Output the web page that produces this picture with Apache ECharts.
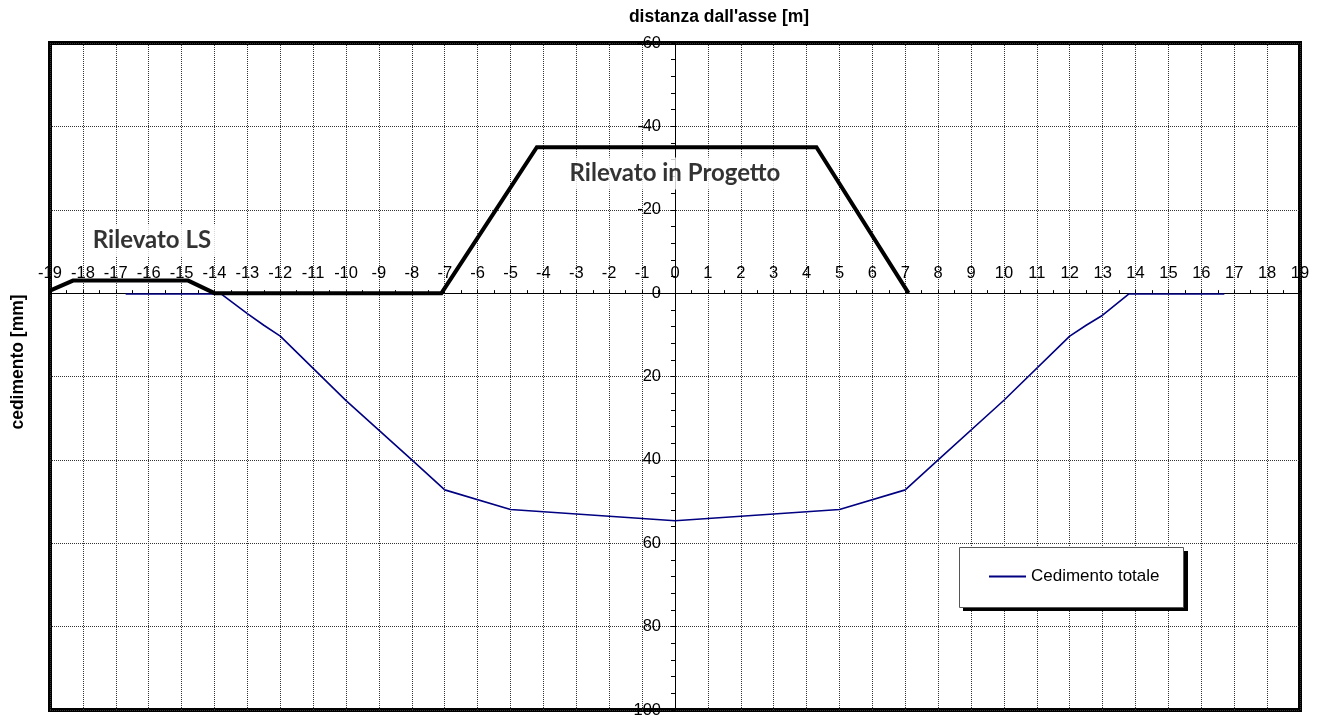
<!DOCTYPE html>
<html>
<head>
<meta charset="utf-8">
<script src="https://cdn.jsdelivr.net/npm/echarts@6/dist/echarts.min.js"></script>
<style>
html,body{margin:0;padding:0;background:#fff;}
#chart{width:1320px;height:720px;}
</style>
</head>
<body>
<div id="chart"></div>
<script>
// Settlement curve (distance from axis [m], settlement [mm])
const settleX = [-16.7, -13.8, -13, -12.5, -12, -10, -8, -7, -5, 0, 5, 7, 8, 10, 12, 12.5, 13, 13.8, 16.7];
const settleY = [0.2, 0.2, 4.9, 7.7, 10.3, 25.8, 40, 47.2, 51.9, 54.6, 51.9, 47.2, 40, 25.7, 10.3, 7.7, 5.3, 0.2, 0.2];

// Embankment profile (existing LS + project embankment)
const profX = [-19, -18.3, -14.8, -14, -7.1, -4.2, 4.3, 7.1];
const profY = [-0.6, -3, -3, 0, 0, -35, -35, 0];

// Annotation labels
const noteX = [-15.9, 0];
const noteY = [-12.7, -28.7];
const noteText = ['Rilevato LS', 'Rilevato in Progetto'];

const seriesName = 'Cedimento totale';
const xTitle = "distanza dall'asse [m]";
const yTitle = 'cedimento [mm]';

const FONT = '"Liberation Sans", Arial, sans-serif';

const chart = echarts.init(document.getElementById('chart'), null, {renderer: 'canvas'});
const option = {
  animation: false,
  backgroundColor: '#fff',
  title: {
    text: xTitle,
    left: 714,
    top: 3,
    textAlign: 'center',
    textStyle: {fontFamily: FONT, fontSize: 17.5, fontWeight: 'bold', color: '#000'}
  },
  graphic: [
    {
      type: 'text',
      x: 18,
      y: 362,
      rotation: Math.PI / 2,
      style: {
        text: yTitle,
        font: 'bold 17.5px ' + FONT,
        fill: '#000',
        textAlign: 'center',
        textVerticalAlign: 'middle'
      }
    },
    // legend frame: drop shadow + white box
    {
      type: 'rect',
      z: 20,
      shape: {x: 963, y: 551, width: 225, height: 60},
      style: {fill: '#000'}
    },
    {
      type: 'rect',
      z: 21,
      shape: {x: 959.5, y: 547.5, width: 224, height: 60},
      style: {fill: '#fff', stroke: '#555', lineWidth: 1}
    }
  ],
  legend: {
    z: 30,
    data: [{name: seriesName, icon: 'rect'}],
    left: 959,
    top: 547,
    orient: 'horizontal',
    padding: [21, 24, 21, 30],
    itemWidth: 37,
    itemHeight: 2,
    itemGap: 4,
    backgroundColor: 'transparent',
    borderWidth: 0,
    textStyle: {fontFamily: FONT, fontSize: 17, color: '#000', padding: [0, 0, 0, 0]}
  },
  grid: {
    left: 50, right: 20, top: 43, bottom: 10,
    show: true,
    borderColor: '#000',
    borderWidth: 4,
    backgroundColor: 'transparent',
    containLabel: false,
    outerBoundsMode: 'none'
  },
  xAxis: {
    type: 'value',
    min: -19, max: 19, interval: 1,
    position: 'top',
    offset: 0,
    axisLine: {show: true, onZero: false, lineStyle: {color: '#000', width: 1}},
    axisTick: {show: true, length: 3, inside: false, lineStyle: {color: '#000'}},
    minorTick: {show: true, splitNumber: 2, length: 3, lineStyle: {color: '#000'}},
    axisLabel: {fontFamily: FONT, fontSize: 16.5, color: '#000', margin: 11, showMinLabel: true, showMaxLabel: true, hideOverlap: false},
    splitLine: {show: true, lineStyle: {color: '#333', type: 'dotted', width: 1}}
  },
  yAxis: {
    type: 'value',
    inverse: true,
    min: -60, max: 100, interval: 20,
    position: 'left',
    offset: 0,
    axisLine: {show: true, onZero: false, lineStyle: {color: '#000', width: 1}},
    axisTick: {show: true, length: 4, lineStyle: {color: '#000'}},
    minorTick: {show: true, splitNumber: 5, length: 4, lineStyle: {color: '#000'}},
    axisLabel: {fontFamily: FONT, fontSize: 16.5, color: '#000', margin: 14, showMinLabel: true, showMaxLabel: true, hideOverlap: false},
    splitLine: {show: true, lineStyle: {color: '#333', type: 'dotted', width: 1}}
  },
  series: [
    {
      name: seriesName,
      type: 'line',
      data: settleX.map((x, i) => [x, settleY[i]]),
      showSymbol: false,
      symbol: 'none',
      lineStyle: {color: '#000080', width: 1.6},
      itemStyle: {color: '#000080'},
      z: 3
    },
    {
      name: 'profilo',
      type: 'line',
      data: profX.map((x, i) => [x, profY[i]]),
      showSymbol: false,
      symbol: 'none',
      lineStyle: {color: '#000', width: 4, join: 'miter'},
      itemStyle: {color: '#000'},
      z: 4
    },
    {
      name: 'note',
      type: 'scatter',
      symbolSize: 0,
      data: noteX.map((x, i) => ({value: [x, noteY[i]], name: noteText[i]})),
      label: {
        show: true,
        position: 'inside',
        formatter: p => p.name,
        fontFamily: 'Lato, "Open Sans", sans-serif',
        fontWeight: 'bold',
        fontSize: 24,
        color: '#000',
        backgroundColor: '#fff',
        padding: [4, 8]
      },
      z: 5,
      silent: true
    }
  ]
};
chart.setOption(option);

// Move both axes (line, ticks and labels) onto the zero crossing of the other axis
const xLeftPx = chart.convertToPixel({xAxisIndex: 0}, -19);
const xZeroPx = chart.convertToPixel({xAxisIndex: 0}, 0);
const yTopPx = chart.convertToPixel({yAxisIndex: 0}, -60);
const yZeroPx = chart.convertToPixel({yAxisIndex: 0}, 0);
chart.setOption({
  xAxis: {offset: -(yZeroPx - yTopPx)},
  yAxis: {offset: -(xZeroPx - xLeftPx)}
});
</script>
</body>
</html>
